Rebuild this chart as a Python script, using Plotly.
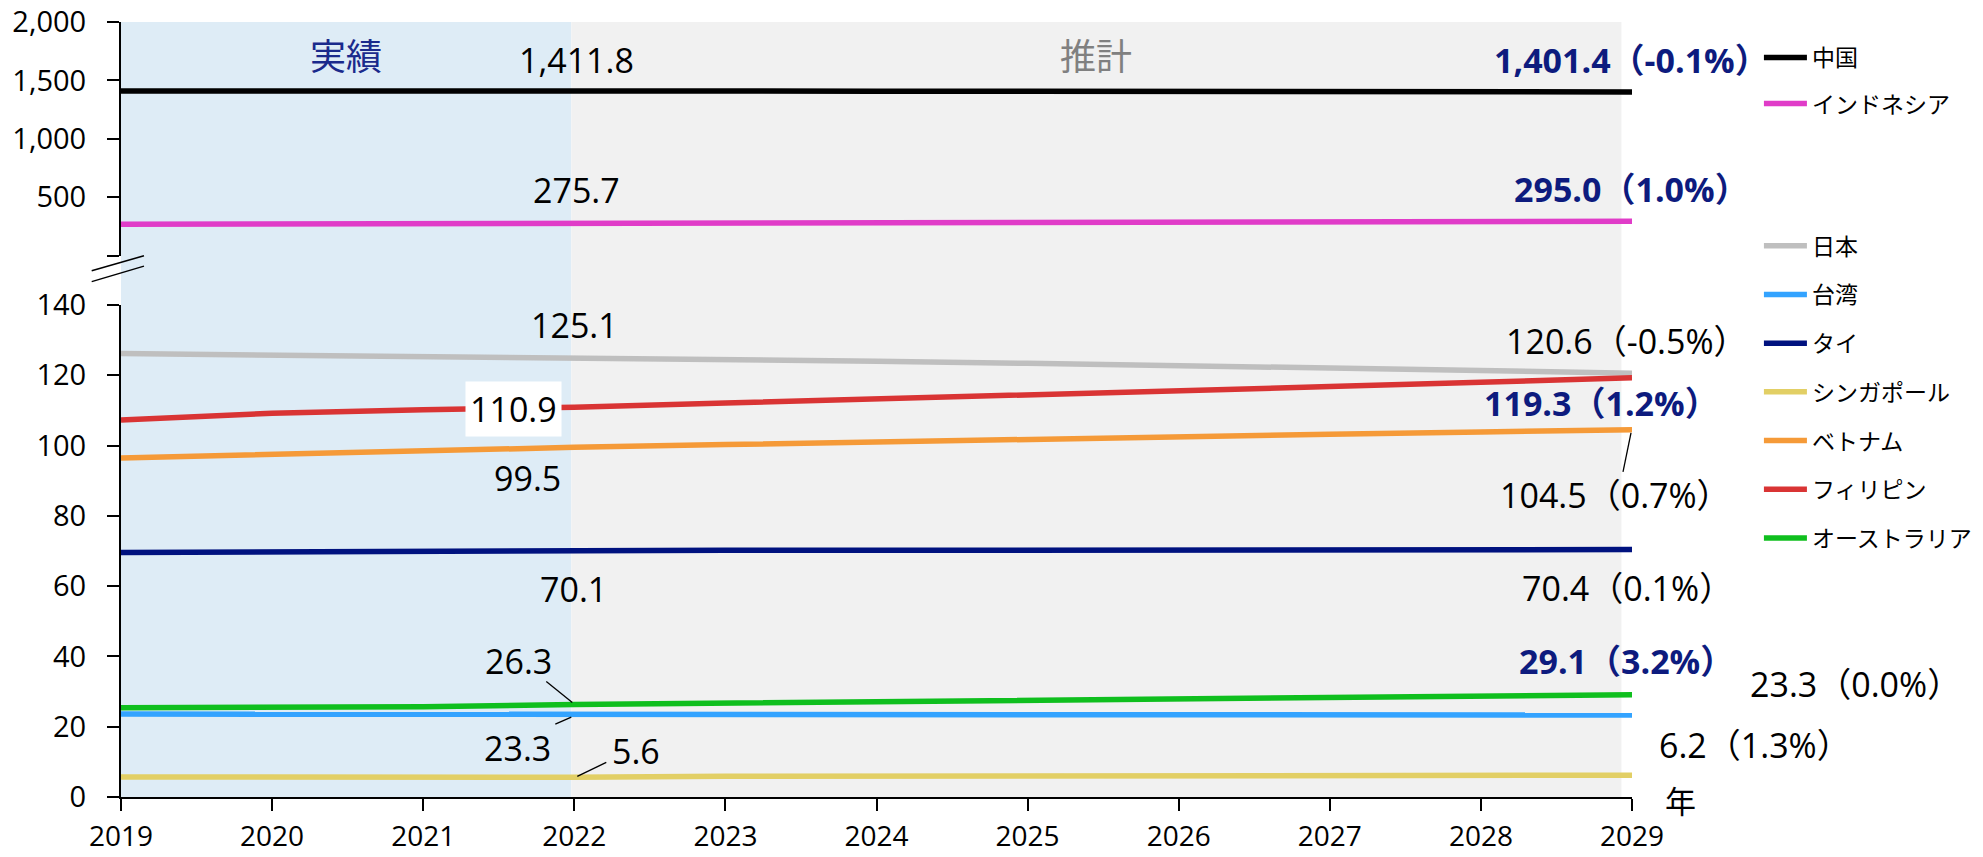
import plotly.graph_objects as go

# ---------------- data ----------------
years = list(range(2019, 2030))
china       = [1410.1, 1412.1, 1412.6, 1411.8, 1409.7, 1408.3, 1406.9, 1405.5, 1404.2, 1402.8, 1401.4]
indonesia   = [268.1, 270.2, 272.7, 275.7, 278.7, 281.6, 284.4, 287.1, 289.8, 292.4, 295.0]
japan       = [126.2, 125.8, 125.5, 125.1, 124.6, 124.0, 123.4, 122.8, 122.1, 121.4, 120.6]
taiwan      = [23.6, 23.6, 23.4, 23.3, 23.4, 23.4, 23.4, 23.4, 23.3, 23.3, 23.3]
thailand    = [69.6, 69.8, 70.0, 70.1, 70.2, 70.2, 70.3, 70.3, 70.4, 70.4, 70.4]
singapore   = [5.7, 5.7, 5.5, 5.6, 5.9, 6.0, 6.0, 6.1, 6.1, 6.2, 6.2]
vietnam     = [96.5, 97.6, 98.5, 99.5, 100.3, 101.1, 101.8, 102.5, 103.2, 103.9, 104.5]
philippines = [107.3, 109.2, 110.2, 110.9, 112.1, 113.2, 114.4, 115.6, 116.8, 118.0, 119.3]
australia   = [25.4, 25.6, 25.7, 26.3, 26.7, 27.1, 27.5, 27.9, 28.3, 28.7, 29.1]

growth_china, growth_indonesia, growth_japan = "-0.1%", "1.0%", "-0.5%"
growth_taiwan, growth_thailand, growth_singapore = "0.0%", "0.1%", "1.3%"
growth_vietnam, growth_philippines, growth_australia = "0.7%", "1.2%", "3.2%"

top_tickvals = [0, 500, 1000, 1500, 2000]
top_ticktext = ["", "500", "1,000", "1,500", "2,000"]
bottom_tickvals = [0, 20, 40, 60, 80, 100, 120, 140]
actual_end = 2021.98
forecast_end = 2028.93

JP = "Noto Sans CJK JP"
NUM = "Open Sans, Noto Sans CJK JP"
NAVY = "#0D1B7E"

fig = go.Figure()

def add_line(name, vals, color, yaxis, legend):
    fig.add_trace(go.Scatter(
        x=years, y=vals, name=name, mode="lines",
        line=dict(color=color, width=5.5),
        yaxis=yaxis, legend=legend, legendgroup=name,
        hoverinfo="skip"))

add_line("中国", china, "#000000", "y2", "legend")
add_line("インドネシア", indonesia, "#E03CC8", "y2", "legend")
add_line("日本", japan, "#BFBFBF", "y", "legend2")
add_line("台湾", taiwan, "#33A3FF", "y", "legend2")
add_line("タイ", thailand, "#00127F", "y", "legend2")
add_line("シンガポール", singapore, "#E2CF65", "y", "legend2")
add_line("ベトナム", vietnam, "#F59A38", "y", "legend2")
add_line("フィリピン", philippines, "#D93434", "y", "legend2")
add_line("オーストラリア", australia, "#0FBF1E", "y", "legend2")

# ---------------- background shading ----------------
shapes = [
    dict(type="rect", xref="x", yref="paper", x0=years[0], x1=actual_end, y0=0, y1=1,
         fillcolor="#DEECF6", line=dict(width=0), layer="below"),
    dict(type="rect", xref="x", yref="paper", x0=actual_end, x1=forecast_end, y0=0, y1=1,
         fillcolor="#F1F1F1", line=dict(width=0), layer="below"),
    # axis break marks
    dict(type="line", xref="paper", yref="paper", x0=-0.0194, y0=0.679, x1=0.0152, y1=0.6985,
         line=dict(color="black", width=1.5)),
    dict(type="line", xref="paper", yref="paper", x0=-0.0194, y0=0.665, x1=0.0152, y1=0.685,
         line=dict(color="black", width=1.5)),
]

def leader(xa, ya, x0, y0, x1, y1, yref="y"):
    shapes.append(dict(type="line", xref="x", yref=yref, xsizemode="pixel", ysizemode="pixel",
                       xanchor=xa, yanchor=ya, x0=x0, y0=y0, x1=x1, y1=y1,
                       line=dict(color="black", width=1.3)))

i22 = years.index(2022)
leader(2022, australia[i22], -2, 2, -28, 23)
leader(2022, taiwan[i22], -3, -2, -19, -9)
leader(2022, singapore[i22], 3, 1, 32, 15)
leader(2029, vietnam[-1], -1, -3, -9, -42)
leader(2029, taiwan[-1], 3, 0, 111, 18)
leader(2029, singapore[-1], 3, 1, 42, 11)
leader(2029, china[-1], 1, 0, 1, 12, yref="y2")

# ---------------- annotations ----------------
ann = []

def label(x, y, text, xs, ys, yref="y", color="black", bold=False, bg=None):
    t = f"<b>{text}</b>" if bold else text
    d = dict(x=x, y=y, xref="x", yref=yref, text=t, showarrow=False,
             xanchor="center", yanchor="middle",
             xshift=xs, yshift=ys, font=dict(family=NUM, size=34, color=color))
    if bg:
        d.update(bgcolor=bg, borderpad=4)
    ann.append(d)

def fmt(v):
    return f"{v:,.1f}"

label(2022, china[i22], fmt(china[i22]), 2, 31, yref="y2")
label(2029, china[-1], f"{fmt(china[-1])}（{growth_china}）", -1, 32, yref="y2", color=NAVY, bold=True)
label(2022, indonesia[i22], fmt(indonesia[i22]), 2, 33, yref="y2")
label(2029, indonesia[-1], f"{fmt(indonesia[-1])}（{growth_indonesia}）", -1, 32, yref="y2", color=NAVY, bold=True)

label(2022, japan[i22], fmt(japan[i22]), 0, 32)
label(2029, japan[-1], f"{fmt(japan[-1])}（{growth_japan}）", -5, 32)
label(2022, philippines[i22], fmt(philippines[i22]), -61, -2, bg="white")
label(2029, philippines[-1], f"{fmt(philippines[-1])}（{growth_philippines}）", -31, -25, color=NAVY, bold=True)
label(2022, vietnam[i22], fmt(vietnam[i22]), -47, -31)
label(2029, vietnam[-1], f"{fmt(vietnam[-1])}（{growth_vietnam}）", -17, -65)
label(2022, thailand[i22], fmt(thailand[i22]), -1, -38)
label(2029, thailand[-1], f"{fmt(thailand[-1])}（{growth_thailand}）", -5, -38)
label(2022, australia[i22], fmt(australia[i22]), -56, 44)
label(2029, australia[-1], f"{fmt(australia[-1])}（{growth_australia}）", -6, 34, color=NAVY, bold=True)
label(2022, taiwan[i22], fmt(taiwan[i22]), -57, -33)
label(2029, taiwan[-1], f"{fmt(taiwan[-1])}（{growth_taiwan}）", 223, 31)
label(2022, singapore[i22], fmt(singapore[i22]), 62, 26)
label(2029, singapore[-1], f"{fmt(singapore[-1])}（{growth_singapore}）", 123, 30)

ann.append(dict(x=2029, y=0, xref="x", yref="y", text="年", showarrow=False,
                xanchor="center", yanchor="middle",
                xshift=48, yshift=-2, font=dict(family=JP, size=31, color="black")))
ann.append(dict(x=(years[0] + actual_end) / 2, y=0.9587, xref="x", yref="paper", text="実績",
                xanchor="center", yanchor="middle",
                showarrow=False, font=dict(family=JP, size=36, color="#1A2A8C")))
ann.append(dict(x=(actual_end + forecast_end) / 2, y=0.9587, xref="x", yref="paper", text="推計",
                xanchor="center", yanchor="middle",
                showarrow=False, font=dict(family=JP, size=36, color="#808080")))

axis_common = dict(showline=True, linecolor="black", linewidth=2, ticks="outside",
                   ticklen=12, tickwidth=2, tickcolor="black", showgrid=False, zeroline=False,
                   ticklabeloverflow="allow")

fig.update_layout(
    width=1983, height=857, autosize=False,
    margin=dict(l=121, r=351, t=22, b=60, autoexpand=False),
    paper_bgcolor="white", plot_bgcolor="rgba(0,0,0,0)",
    font=dict(family=NUM, size=28, color="black"),
    xaxis=dict(range=[years[0], years[-1]], tickvals=years, ticklabelstandoff=1,
               tickfont=dict(family=NUM, size=28, color="black"), **axis_common),
    yaxis=dict(domain=[0, 0.6348], range=[0, 140], tickvals=bottom_tickvals,
               ticklabelstandoff=15, anchor="x",
               tickfont=dict(family=NUM, size=29, color="black"), **axis_common),
    yaxis2=dict(domain=[0.6985, 1], range=[0, 2000], tickvals=top_tickvals, ticktext=top_ticktext,
                ticklabelstandoff=15, anchor="x",
                tickfont=dict(family=NUM, size=29, color="black"), **axis_common),
    legend=dict(x=1.084, xanchor="left", y=0.982, yanchor="top", itemwidth=43,
                tracegroupgap=13.3, font=dict(family=JP, size=23, color="black"),
                bgcolor="rgba(0,0,0,0)"),
    legend2=dict(x=1.084, xanchor="left", y=0.739, yanchor="top", itemwidth=43,
                 tracegroupgap=15.8, font=dict(family=JP, size=23, color="black"),
                 bgcolor="rgba(0,0,0,0)"),
    shapes=shapes,
    annotations=ann,
    showlegend=True,
)

# remove the default 8px page margin so the figure fills the window exactly
fig.write_html("out.html", config={"displayModeBar": False},
               post_script="document.body.style.margin='0';document.body.style.overflow='hidden';")
